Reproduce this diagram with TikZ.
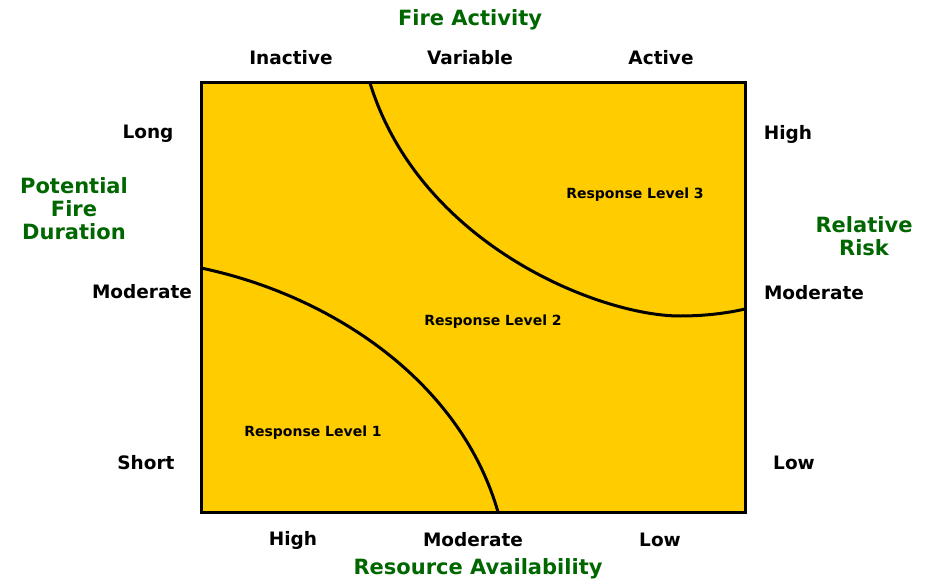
\documentclass[tikz,border=0pt]{standalone}
\usepackage{fontspec}
\setmainfont{DejaVu Sans}
\definecolor{boxyellow}{RGB}{255,204,0}
\definecolor{titlegreen}{RGB}{0,102,0}
\tikzset{
  lbl/.style={font=\bfseries\fontsize{18.5}{21}\selectfont, text=black, inner sep=0pt},
  ttl/.style={font=\bfseries\fontsize{21}{23}\selectfont, text=titlegreen, align=center, inner sep=0pt},
  zone/.style={font=\bfseries\fontsize{14}{16}\selectfont, text=black, inner sep=0pt},
  edge/.style={line width=3pt, black}
}
\begin{document}
\begin{tikzpicture}[x=1pt,y=-1pt]
\useasboundingbox (0,0) rectangle (936,583);
% box
\coordinate (bl) at (201,512);
\coordinate (tr) at (745,83);
\fill[boxyellow] (bl) rectangle (tr);
% curves
\coordinate (c1a) at (201,268);
\coordinate (c1b) at (498,512);
\draw[edge] (c1a) .. controls (330,295) and (460,380) .. (c1b);
\coordinate (c2a) at (370,83);
\coordinate (c2m) at (680,316);
\coordinate (c2b) at (745,309);
\draw[edge] (c2a) .. controls (420,245) and (600,316) .. (c2m)
  .. controls (705,316) and (728,313) .. (c2b);
\draw[edge] (bl) rectangle (tr);
% titles
\node[ttl] (fa) at (470,20) {Fire Activity};
\node[ttl] (ra) at (478,569) {Resource Availability};
\node[ttl] (pfd) at (74,209) {Potential\\Fire\\Duration};
\node[ttl] (rr) at (864,236) {Relative\\Risk};
% top labels
\node[lbl] (tin) at (291,58) {Inactive};
\node[lbl] (tva) at (470,58) {Variable};
\node[lbl] (tac) at (661,58) {Active};
% left labels
\node[lbl] (llo) at (148,134) {Long};
\node[lbl] (lmo) at (142,292) {Moderate};
\node[lbl] (lsh) at (146,463) {Short};
% right labels
\node[lbl] (rhi) at (788,134) {High};
\node[lbl] (rmo) at (814,293) {Moderate};
\node[lbl] (rlo) at (794,463) {Low};
% bottom labels
\node[lbl] (bhi) at (293,540) {High};
\node[lbl] (bmo) at (473,540) {Moderate};
\node[lbl] (blo) at (660,540) {Low};
% zones
\node[zone] (z1) at (313,433) {Response Level 1};
\node[zone] (z2) at (493,322) {Response Level 2};
\node[zone] (z3) at (635,195) {Response Level 3};
\end{tikzpicture}
\end{document}
